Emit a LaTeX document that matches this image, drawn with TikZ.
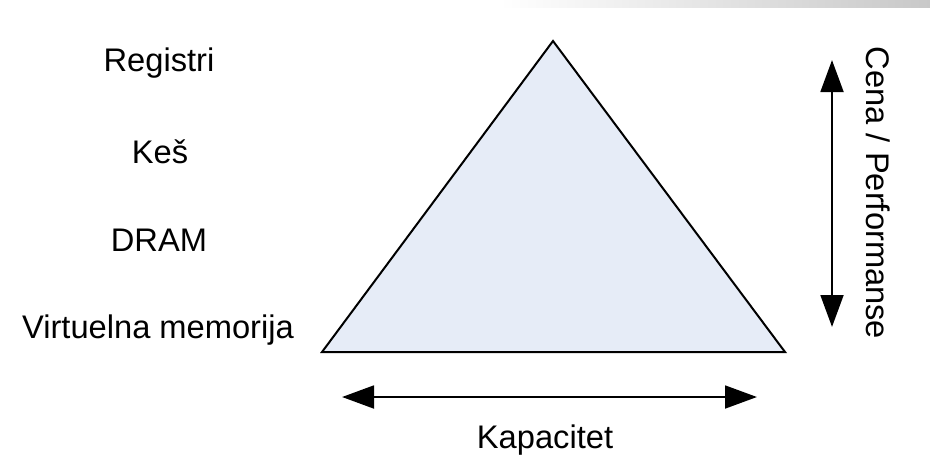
\documentclass[tikz,border=0pt]{standalone}
\usepackage{fontspec}
\setmainfont{Liberation Sans}
\usetikzlibrary{arrows.meta}
\definecolor{trifill}{RGB}{230,236,247}
\definecolor{bargray}{RGB}{200,200,200}
\begin{document}
\begin{tikzpicture}[x=0.75pt,y=-0.75pt,
  lbl/.style={font=\fontsize{24.5}{28}\selectfont, inner sep=0pt, anchor=center},
  dblarrow/.style={line width=2.2pt, {Triangle[length=24pt,width=17pt]}-{Triangle[length=24pt,width=17pt]}}]
  \useasboundingbox (0,0) rectangle (930,472);
  \shade[left color=white, right color=bargray] (500,0) rectangle (930,7);
  % triangle
  \coordinate (apex) at (553,41);
  \coordinate (bl) at (322,352);
  \coordinate (br) at (785,352);
  \filldraw[fill=trifill, draw=black, line width=1.5pt, line join=miter] (apex) -- (br) -- (bl) -- cycle;
  % labels
  \node[lbl] (reg) at (159,63) {Registri};
  \node[lbl] (kes) at (160,152) {Keš};
  \node[lbl] (dram) at (159,240) {DRAM};
  \node[lbl] (vm) at (158,330) {Virtuelna memorija};
  % vertical arrow
  \coordinate (vt) at (832,60);
  \coordinate (vb) at (832,327);
  \draw[dblarrow] (vt) -- (vb);
  \node[lbl, rotate=-90] (cena) at (878,193) {Cena / Performanse};
  % horizontal arrow
  \coordinate (hl) at (342,397);
  \coordinate (hr) at (757,397);
  \draw[dblarrow] (hl) -- (hr);
  \node[lbl] (kap) at (545,440) {Kapacitet};
\end{tikzpicture}
\end{document}
